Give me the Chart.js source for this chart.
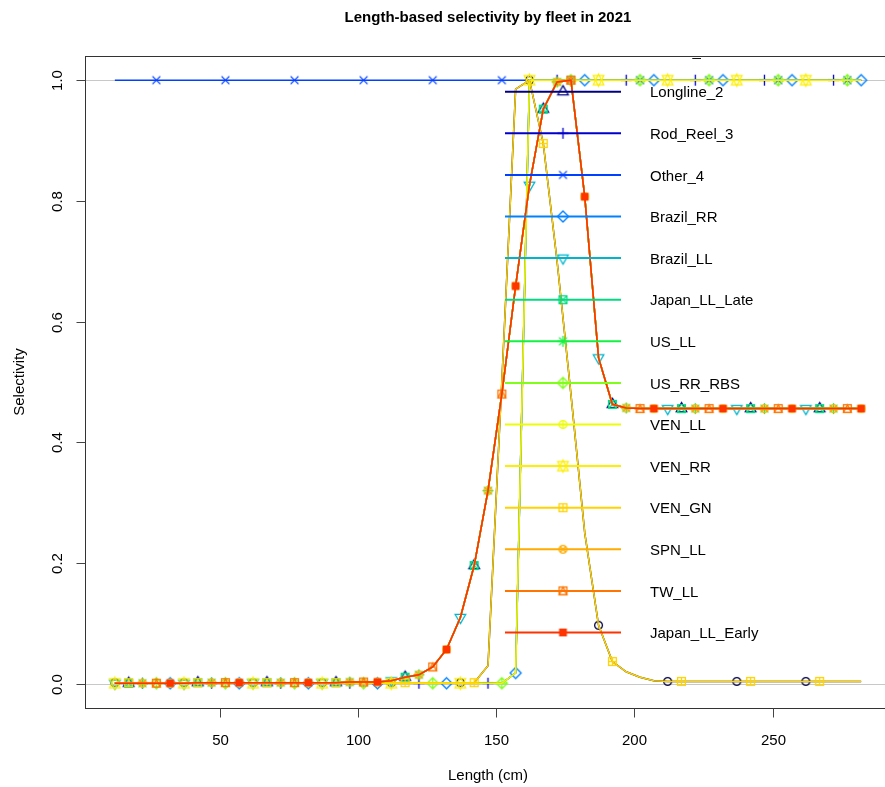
<!DOCTYPE html>
<html>
<head>
<meta charset="utf-8">
<script src="https://cdn.jsdelivr.net/npm/chart.js@4.4.0/dist/chart.umd.min.js"></script>
<style>
  html, body { margin: 0; padding: 0; background: #fff; overflow: hidden; }
  #wrap { width: 885px; height: 787px; overflow: hidden; position: relative; }
  canvas { display: block; }
</style>
</head>
<body>
<div id="wrap"><canvas id="selexChart" width="900" height="787"></canvas></div>
<script>
// Length bins (cm)
const bins = [12, 17, 22, 27, 32, 37, 42, 47, 52, 57, 62, 67, 72, 77, 82, 87, 92, 97, 102, 107,
    112, 117, 122, 127, 132, 137, 142, 147, 152, 157, 162, 167, 172, 177, 182, 187, 192, 197, 202, 207,
    212, 217, 222, 227, 232, 237, 242, 247, 252, 257, 262, 267, 272, 277, 282];

// Selectivity curves (one value per bin)
const selLL = [0.001, 0.001, 0.001, 0.001, 0.001, 0.001, 0.002, 0.002, 0.002, 0.002, 0.002, 0.002, 0.002, 0.002, 0.002, 0.002, 0.002, 0.003, 0.003, 0.003,
    0.005, 0.011, 0.015, 0.028, 0.057, 0.110, 0.196, 0.320, 0.480, 0.659, 0.826, 0.952, 0.997, 1.000, 0.807, 0.540, 0.463, 0.457, 0.456, 0.456,
    0.456, 0.456, 0.456, 0.456, 0.456, 0.456, 0.456, 0.456, 0.456, 0.456, 0.456, 0.456, 0.456, 0.456, 0.456];
const selRR = [0.001, 0.001, 0.001, 0.001, 0.001, 0.001, 0.001, 0.001, 0.001, 0.001, 0.001, 0.001, 0.001, 0.001, 0.001, 0.001, 0.001, 0.001, 0.001, 0.001,
    0.001, 0.001, 0.001, 0.001, 0.001, 0.001, 0.001, 0.001, 0.001, 0.018, 1.000, 1.000, 1.000, 1.000, 1.000, 1.000, 1.000, 1.000, 1.000, 1.000,
    1.000, 1.000, 1.000, 1.000, 1.000, 1.000, 1.000, 1.000, 1.000, 1.000, 1.000, 1.000, 1.000, 1.000, 1.000];
const selGN = [0.002, 0.002, 0.002, 0.002, 0.002, 0.002, 0.002, 0.002, 0.002, 0.002, 0.002, 0.002, 0.002, 0.002, 0.002, 0.002, 0.002, 0.002, 0.002, 0.002,
    0.002, 0.002, 0.002, 0.002, 0.002, 0.002, 0.002, 0.030, 0.500, 0.985, 1.000, 0.895, 0.700, 0.480, 0.250, 0.097, 0.037, 0.020, 0.011, 0.005,
    0.004, 0.004, 0.004, 0.004, 0.004, 0.004, 0.004, 0.004, 0.004, 0.004, 0.004, 0.004, 0.004, 0.004, 0.004];
const selFlat = [1, 1, 1, 1, 1, 1, 1, 1, 1, 1, 1, 1, 1, 1, 1, 1, 1, 1, 1, 1,
    1, 1, 1, 1, 1, 1, 1, 1, 1, 1, 1, 1, 1, 1, 1, 1, 1, 1, 1, 1,
    1, 1, 1, 1, 1, 1, 1, 1, 1, 1, 1, 1, 1, 1, 1];

// Fleets in plotting order
const fleetNames = ['Gillnet_1', 'Longline_2', 'Rod_Reel_3', 'Other_4', 'Brazil_RR', 'Brazil_LL', 'Japan_LL_Late',
    'US_LL', 'US_RR_RBS', 'VEN_LL', 'VEN_RR', 'VEN_GN', 'SPN_LL', 'TW_LL', 'Japan_LL_Early'];
const fleetSel = [selGN, selLL, selRR, selFlat, selRR, selLL, selLL, selLL, selRR, selLL, selRR, selGN, selLL, selLL, selLL];
const fleetColors = ['#000041', '#000081', '#0000CB', '#0041FF', '#0081FF', '#00B4CB', '#02DA81', '#13F241',
    '#80FE1A', '#ECFD08', '#FDEE02', '#FFD300', '#FFAB00', '#FF7500', '#FF3300'];
const fleetPch = [1, 2, 3, 4, 5, 6, 7, 8, 9, 10, 11, 12, 13, 14, 15];

const xTicks = [50, 100, 150, 200, 250];
const yTicks = [0, 0.2, 0.4, 0.6, 0.8, 1.0];
const yTickLabels = ['0.0', '0.2', '0.4', '0.6', '0.8', '1.0'];
const refLines = [0, 1];

const font = "'Liberation Sans', Arial, sans-serif";

// R-style plotting symbols drawn into small canvases
function makeGlyph(pch, color) {
    const s = 25, r = 3.9;
    const cv = document.createElement('canvas');
    cv.width = s; cv.height = s;
    const g = cv.getContext('2d');
    g.translate(s / 2, s / 2);
    g.strokeStyle = color;
    g.fillStyle = color;
    g.lineWidth = 1.3;
    const seg = (x1, y1, x2, y2) => { g.beginPath(); g.moveTo(x1, y1); g.lineTo(x2, y2); g.stroke(); };
    const poly = pts => { g.beginPath(); g.moveTo(pts[0][0], pts[0][1]); pts.slice(1).forEach(p => g.lineTo(p[0], p[1])); g.closePath(); g.stroke(); };
    const circ = rad => { g.beginPath(); g.arc(0, 0, rad, 0, Math.PI * 2); g.stroke(); };
    const plus = d => { seg(-d, 0, d, 0); seg(0, -d, 0, d); };
    const times = d => { seg(-d, -d, d, d); seg(-d, d, d, -d); };
    const sq = d => g.strokeRect(-d, -d, 2 * d, 2 * d);
    const TRC0 = 1.5551, TRC1 = 1.3468, TRC2 = 0.7776;
    const rt = TRC0 * r, yc = TRC2 * r, xc = TRC1 * r;
    switch (pch) {
        case 1: circ(r); break;
        case 2: poly([[0, -rt], [xc, yc], [-xc, yc]]); break;
        case 3: plus(Math.SQRT2 * r); break;
        case 4: times(r); break;
        case 5: poly([[0, -Math.SQRT2 * r], [Math.SQRT2 * r, 0], [0, Math.SQRT2 * r], [-Math.SQRT2 * r, 0]]); break;
        case 6: poly([[0, rt], [xc, -yc], [-xc, -yc]]); break;
        case 7: sq(r); times(r); break;
        case 8: times(r); plus(Math.SQRT2 * r); break;
        case 9: {
            const d = Math.SQRT2 * r;
            plus(d); poly([[0, -d], [d, 0], [0, d], [-d, 0]]); break;
        }
        case 10: circ(r); plus(r); break;
        case 11: {
            const y2 = 0.5 * (yc + rt);
            poly([[0, -rt], [xc, y2], [-xc, y2]]);
            poly([[0, rt], [xc, -y2], [-xc, -y2]]); break;
        }
        case 12: sq(r); plus(r); break;
        case 13: circ(r); times(r / Math.SQRT2); break;
        case 14: sq(r); poly([[0, -r], [r, r], [-r, r]]); break;
        case 15: g.fillRect(-r, -r, 2 * r, 2 * r); break;
    }
    return cv;
}

const glyphs = fleetPch.map((p, i) => makeGlyph(p, fleetColors[i]));

const datasets = fleetNames.map((name, i) => {
    const off = i % 5;
    return {
        label: name,
        data: bins.map((b, k) => ({ x: b, y: fleetSel[i][k] })),
        borderColor: fleetColors[i],
        backgroundColor: fleetColors[i],
        borderWidth: 1.5,
        tension: 0,
        fill: false,
        pointStyle: glyphs[i],
        pointRadius: c => (c.dataIndex % 5 === off ? 4 : 0),
        pointHoverRadius: 0,
        order: fleetNames.length - i
    };
});

const rPlot = {
    id: 'rPlot',
    beforeDatasetsDraw(chart) {
        const { ctx, chartArea: a, scales: { y } } = chart;
        ctx.save();
        ctx.strokeStyle = '#c8c8c8';
        ctx.lineWidth = 1;
        refLines.forEach(v => {
            const py = Math.round(y.getPixelForValue(v)) + 0.5;
            ctx.beginPath(); ctx.moveTo(a.left, py); ctx.lineTo(a.right, py); ctx.stroke();
        });
        ctx.restore();
    },
    afterDatasetsDraw(chart) {
        const { ctx, chartArea: a, scales: { x, y } } = chart;

        // Legend (clipped to the plot region like R)
        ctx.save();
        ctx.beginPath();
        ctx.rect(a.left, a.top, a.right - a.left, a.bottom - a.top);
        ctx.clip();
        ctx.font = '15px ' + font;
        ctx.fillStyle = '#000';
        ctx.textBaseline = 'middle';
        ctx.textAlign = 'left';
        fleetNames.forEach((name, i) => {
            const ly = 50.1 + i * 41.6;
            ctx.strokeStyle = fleetColors[i];
            ctx.lineWidth = 2;
            ctx.beginPath(); ctx.moveTo(505, ly); ctx.lineTo(621, ly); ctx.stroke();
            const gl = glyphs[i];
            ctx.drawImage(gl, 563 - gl.width / 2, ly - gl.height / 2);
            ctx.fillText(name, 650, ly + 1.5);
        });
        ctx.restore();

        // Box
        ctx.save();
        ctx.strokeStyle = '#333';
        ctx.lineWidth = 1;
        ctx.strokeRect(Math.round(a.left) + 0.5, Math.round(a.top) + 0.5, a.right - a.left, Math.round(a.bottom - a.top));

        // Ticks and labels
        ctx.strokeStyle = '#444';
        ctx.fillStyle = '#000';
        ctx.font = '15px ' + font;
        const bot = Math.round(a.bottom) + 0.5;
        ctx.textAlign = 'center';
        ctx.textBaseline = 'middle';
        xTicks.forEach(v => {
            const px = Math.round(x.getPixelForValue(v)) + 0.5;
            ctx.beginPath(); ctx.moveTo(px, bot); ctx.lineTo(px, bot + 9); ctx.stroke();
            ctx.fillText(String(v), px, 741);
        });
        const lft = Math.round(a.left) + 0.5;
        yTicks.forEach((v, i) => {
            const py = Math.round(y.getPixelForValue(v)) + 0.5;
            ctx.beginPath(); ctx.moveTo(lft, py); ctx.lineTo(lft - 9, py); ctx.stroke();
            ctx.save();
            ctx.translate(58, py);
            ctx.rotate(-Math.PI / 2);
            ctx.fillText(yTickLabels[i], 0, 0);
            ctx.restore();
        });

        // Titles
        ctx.font = 'bold 15px ' + font;
        ctx.fillText('Length-based selectivity by fleet in 2021', 488, 18);
        ctx.font = '15px ' + font;
        ctx.fillText('Length (cm)', 488, 776);
        ctx.save();
        ctx.translate(20, 382);
        ctx.rotate(-Math.PI / 2);
        ctx.fillText('Selectivity', 0, 0);
        ctx.restore();
        ctx.restore();
    }
};

new Chart(document.getElementById('selexChart').getContext('2d'), {
    type: 'line',
    data: { datasets: datasets },
    options: {
        responsive: false,
        animation: false,
        devicePixelRatio: 1,
        layout: { padding: { left: 85, right: 9, top: 56, bottom: 79 } },
        scales: {
            x: { type: 'linear', min: 1.2, max: 292.8, display: false },
            y: { type: 'linear', min: -0.04, max: 1.04, display: false }
        },
        plugins: {
            legend: { display: false },
            tooltip: { enabled: false },
            title: { display: false }
        },
        events: []
    },
    plugins: [rPlot]
});
</script>
</body>
</html>
